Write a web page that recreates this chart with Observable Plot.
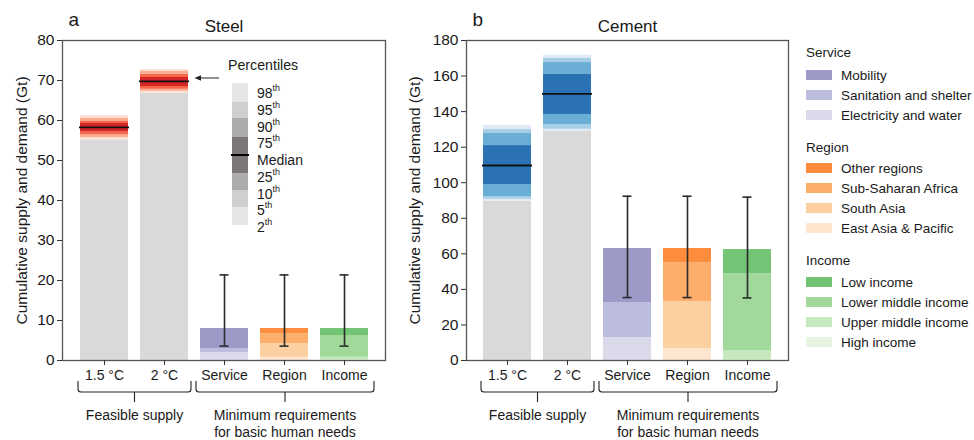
<!DOCTYPE html>
<html><head><meta charset="utf-8">
<script src="https://cdn.jsdelivr.net/npm/d3@7"></script>
<script src="https://cdn.jsdelivr.net/npm/@observablehq/plot@0.6"></script>
<style>
body{margin:0;background:#fff;}
#wrap{position:relative;width:974px;height:440px;overflow:hidden;font-family:"Liberation Sans",Arial,sans-serif;}
#wrap > svg{position:absolute;top:0;}
</style></head>
<body><div id="wrap"></div>
<script>
// ---------- data ----------
const categories = ["1.5 °C", "2 °C", "Service", "Region", "Income"];
const percentileLabels = ["98", "95", "90", "75", "Median", "25", "10", "5", "2"];
// feasible supply percentiles: p2, p5, p10, p25, p50, p75, p90, p95, p98 (Gt)
const steelSupply15 = [55.1, 55.75, 56.4, 57.1, 58.3, 59.25, 59.9, 60.6, 61.25];
const steelSupply2 = [66.8, 67.3, 67.8, 68.5, 69.8, 70.75, 71.6, 72.25, 72.75];
const cementSupply15 = [89.6, 90.7, 92.2, 99.0, 109.7, 120.9, 127.7, 129.9, 132.2];
const cementSupply2 = [129.0, 130.1, 132.7, 138.4, 150.0, 160.9, 167.6, 169.9, 171.7];
// minimum requirements (top-to-bottom legend order)
const serviceNames = ["Mobility", "Sanitation and shelter", "Electricity and water"];
const steelService = [5.0, 1.0, 2.0];
const cementService = [30.4, 19.7, 12.9];
const regionNames = ["Other regions", "Sub-Saharan Africa", "South Asia", "East Asia & Pacific"];
const steelRegion = [1.3, 2.5, 3.4, 0.8];
const cementRegion = [7.95, 21.9, 26.4, 6.75];
const incomeNames = ["Low income", "Lower middle income", "Upper middle income", "High income"];
const steelIncome = [1.75, 5.45, 0.7, 0.1];
const cementIncome = [13.5, 43.3, 5.4, 0.2];
// error bars [low, high] for Service, Region, Income
const steelErr = [[3.6, 21.4], [3.6, 21.4], [3.6, 21.4]];
const cementErr = [[35.4, 92.4], [35.4, 92.4], [35.2, 91.9]];
const steelTicks = [0, 10, 20, 30, 40, 50, 60, 70, 80];
const cementTicks = [0, 20, 40, 60, 80, 100, 120, 140, 160, 180];

// ---------- styles ----------
const FONT = '"Liberation Sans", Arial, sans-serif';
const INK = "#1a1a1a";
const redTiers = ["#fee0d2", "#fcab8f", "#f6674a", "#d42526"];
const blueTiers = ["#deebf7", "#a6cee4", "#6aaed6", "#2a72b3"];
const serviceColors = ["#9e9ac8", "#bcbddc", "#dadaeb"];
const regionColors = ["#fd8d3c", "#fdae6b", "#fdd0a2", "#fee6ce"];
const incomeColors = ["#74c476", "#a1d99b", "#c7e9c0", "#e5f5e0"];
const greyTiers = ["#e6e6e6", "#cfcfcf", "#acacac", "#7b7777"];

const wrap = d3.select("#wrap");

function buildPanel(cfg) {
  const cats = categories;
  const greyRows = [{cat: cats[0], v: cfg.p15[0]}, {cat: cats[1], v: cfg.p20[0]}];
  const tierEdges = [[0,1,0],[1,2,1],[2,3,2],[3,5,3],[5,6,2],[6,7,1],[7,8,0]];
  const bandRows = [];
  [[cats[0], cfg.p15], [cats[1], cfg.p20]].forEach(([c, p]) =>
    tierEdges.forEach(([a, b, t]) => bandRows.push({cat: c, lo: p[a], hi: p[b], color: cfg.tiers[t]})));
  const medRows = [{cat: cats[0], v: cfg.p15[4]}, {cat: cats[1], v: cfg.p20[4]}];
  const stackRows = [];
  [[cats[2], cfg.service, serviceColors], [cats[3], cfg.region, regionColors], [cats[4], cfg.income, incomeColors]]
    .forEach(([c, vals, cols]) => { for (let i = vals.length - 1; i >= 0; i--) stackRows.push({cat: c, v: vals[i], color: cols[i]}); });
  const errRows = cfg.err.map((e, i) => ({cat: cats[i + 2], lo: e[0], hi: e[1]}));

  const plot = Plot.plot({
    width: cfg.width, height: 440,
    marginTop: 40, marginBottom: 80, marginLeft: cfg.ml, marginRight: cfg.mr,
    style: {fontFamily: FONT, color: INK, background: "transparent", overflow: "visible"},
    x: {domain: cats, paddingInner: 0.2, paddingOuter: 0.26},
    y: {domain: [0, cfg.yMax]},
    color: {type: "identity"},
    marks: [
      Plot.barY(greyRows, {x: "cat", y1: 0, y2: "v", fill: "#d9d9d9"}),
      Plot.barY(bandRows, {x: "cat", y1: "lo", y2: "hi", fill: "color"}),
      Plot.tickY(medRows, {x: "cat", y: "v", stroke: "#111", strokeWidth: 1.8, insetLeft: -1, insetRight: -1}),
      Plot.barY(stackRows, {x: "cat", y: "v", fill: "color"}),
      Plot.ruleX(errRows, {x: (d) => d.cat, y1: "lo", y2: "hi", stroke: "#2b2b2b", strokeWidth: 1.6}),
      Plot.tickY(errRows, {x: "cat", y: "lo", stroke: "#2b2b2b", strokeWidth: 1.6, insetLeft: 19.5, insetRight: 19.5}),
      Plot.tickY(errRows, {x: "cat", y: "hi", stroke: "#2b2b2b", strokeWidth: 1.6, insetLeft: 19.5, insetRight: 19.5}),
      Plot.frame({stroke: "#555", strokeWidth: 1.3}),
      Plot.axisY({ticks: cfg.ticks, tickSize: 5, tickPadding: 3, fontSize: 15.5, label: null, stroke: "#333"}),
      Plot.axisX({tickSize: 5, tickPadding: 5, fontSize: 14, label: null, stroke: "#333"}),
      Plot.text([cfg.title], {text: (d) => d, frameAnchor: "top", lineAnchor: "middle", dy: -14, fontSize: 17}),
      Plot.text([cfg.letter], {text: (d) => d, frameAnchor: "top-left", textAnchor: "start", lineAnchor: "middle", dx: 6, dy: -21, fontSize: 19}),
      Plot.text(["Cumulative supply and demand (Gt)"], {text: (d) => d, frameAnchor: "left", textAnchor: "middle", lineAnchor: "middle", rotate: -90, dx: cfg.ylabelDx, fontSize: 15.5})
    ]
  });
  const svg = d3.select(plot).style("left", cfg.left + "px");
  wrap.node().appendChild(plot);

  // brackets below the x axis
  const xs = plot.scale("x");
  const bw = xs.bandwidth;
  const L = (c) => xs.apply(c), R = (c) => xs.apply(c) + bw;
  const brackets = [
    {x1: L(cats[0]) - 2, x2: R(cats[1]) + 3, lines: ["Feasible supply"]},
    {x1: L(cats[2]) - 4, x2: R(cats[4]) + 6, lines: ["Minimum requirements", "for basic human needs"]}
  ];
  const g = svg.append("g");
  brackets.forEach((b) => {
    const xm = (b.x1 + b.x2) / 2, yTop = 381, yH = 392, yStem = 402, r = 3;
    g.append("path")
      .attr("d", `M${b.x1},${yTop}V${yH - r}Q${b.x1},${yH} ${b.x1 + r},${yH}H${b.x2 - r}Q${b.x2},${yH} ${b.x2},${yH - r}V${yTop}M${xm},${yH}V${yStem}`)
      .attr("fill", "none").attr("stroke", "#222").attr("stroke-width", 1.1);
    b.lines.forEach((t, i) => g.append("text").attr("x", xm).attr("y", 415 + i * 17)
      .attr("text-anchor", "middle").attr("dominant-baseline", "central")
      .attr("font-size", 14).attr("fill", INK).attr("font-family", FONT).text(t));
  });
  return {plot, svg};
}

const steel = buildPanel({
  title: "Steel", letter: "a", width: 400, left: 0, ml: 62, mr: 15, ylabelDx: -40,
  yMax: 80, ticks: steelTicks, p15: steelSupply15, p20: steelSupply2, tiers: redTiers,
  service: steelService, region: steelRegion, income: steelIncome, err: steelErr
});
const cement = buildPanel({
  title: "Cement", letter: "b", width: 400, left: 400, ml: 66, mr: 12, ylabelDx: -51,
  yMax: 180, ticks: cementTicks, p15: cementSupply15, p20: cementSupply2, tiers: blueTiers,
  service: cementService, region: cementRegion, income: cementIncome, err: cementErr
});

// percentile key inside the steel panel
{
  const svg = steel.svg;
  const g = svg.append("g").attr("font-family", FONT).attr("fill", INK).attr("text-anchor", "start");
  g.append("text").attr("x", 228).attr("y", 65).attr("dominant-baseline", "central")
    .attr("font-size", 14.2).text("Percentiles");
  const edges = [83, 102, 118, 137, 155, 173, 190, 207, 225];
  const tierIdx = [0, 1, 2, 3, 3, 2, 1, 0];
  for (let i = 0; i < 8; i++) {
    g.append("rect").attr("x", 232).attr("y", edges[i]).attr("width", 16).attr("height", edges[i + 1] - edges[i])
      .attr("fill", greyTiers[tierIdx[i]]);
  }
  g.append("line").attr("x1", 231).attr("x2", 249).attr("y1", 155).attr("y2", 155).attr("stroke", "#000").attr("stroke-width", 2);
  percentileLabels.forEach((lab, i) => {
    const t = g.append("text").attr("x", 257).attr("y", 93 + i * 16.75).attr("dominant-baseline", "central").attr("font-size", 14);
    if (lab === "Median") t.text(lab);
    else { t.append("tspan").text(lab); t.append("tspan").attr("font-size", 9).attr("dy", -5).text("th"); }
  });
  // arrow to the 2 °C median
  g.append("line").attr("x1", 219).attr("x2", 199).attr("y1", 78).attr("y2", 78).attr("stroke", "#222").attr("stroke-width", 1);
  g.append("path").attr("d", "M194.5,78L201,75.3L201,80.7Z").attr("fill", "#222");
}

// right-hand legend
{
  const leg = wrap.append("svg").attr("width", 174).attr("height", 440).style("left", "800px")
    .attr("font-family", FONT).attr("fill", INK);
  const groups = [
    {title: "Service", y: 52, names: serviceNames, colors: serviceColors, ys: [75, 95, 115]},
    {title: "Region", y: 147, names: regionNames, colors: regionColors, ys: [168, 188, 208, 228]},
    {title: "Income", y: 260, names: incomeNames, colors: incomeColors, ys: [282, 302, 322, 342]}
  ];
  groups.forEach((gr) => {
    leg.append("text").attr("x", 6).attr("y", gr.y).attr("dominant-baseline", "central").attr("font-size", 13.5).text(gr.title);
    gr.names.forEach((n, i) => {
      leg.append("rect").attr("x", 6).attr("y", gr.ys[i] - 5).attr("width", 26).attr("height", 10).attr("fill", gr.colors[i]);
      leg.append("text").attr("x", 41).attr("y", gr.ys[i]).attr("dominant-baseline", "central").attr("font-size", 13.5).text(n);
    });
  });
}
</script>
</body></html>
